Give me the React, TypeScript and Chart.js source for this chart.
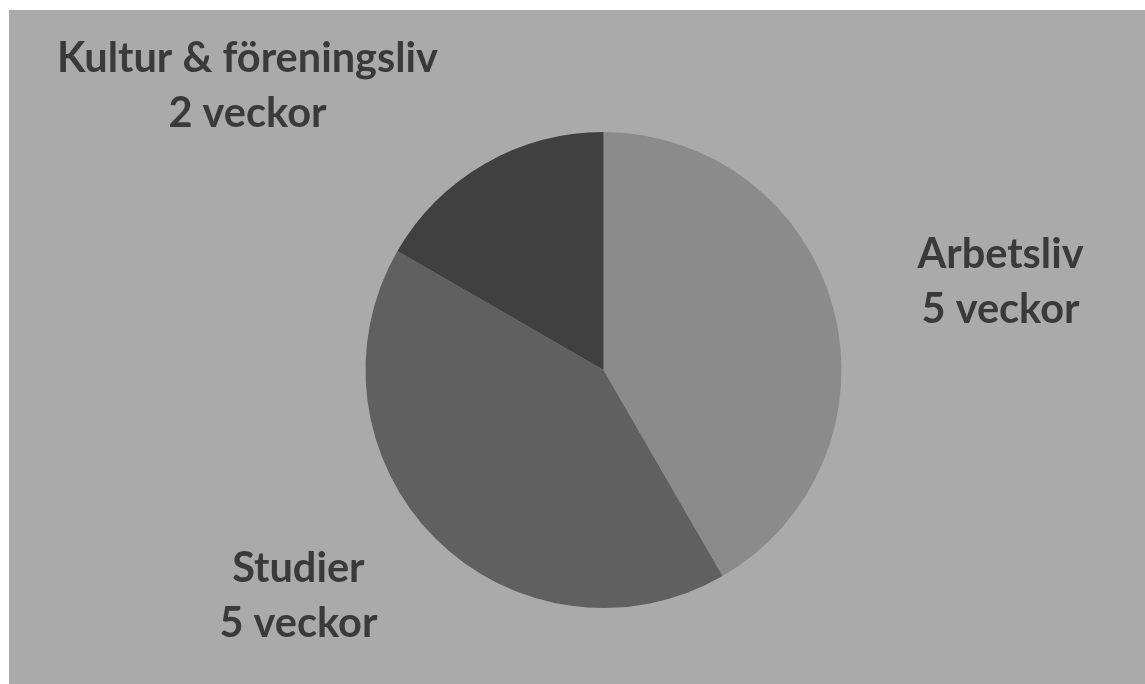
import React, { useEffect, useRef } from "react";
import { Chart, registerables } from "chart.js";

Chart.register(...registerables);

const categories = ["Arbetsliv", "Studier", "Kultur & föreningsliv"];
const weeks = [5, 5, 2];
const valueLabels = ["5 veckor", "5 veckor", "2 veckor"];
const sliceColors = ["#8b8b8b", "#606060", "#404040"];

// label anchor offsets from pie centre, in units of radius (first-line baseline)
const labelOffsets = [
  [1.668, -0.429],
  [-1.282, 0.891],
  [-1.496, -1.252],
];

const labelPlugin = {
  id: "sliceLabels",
  afterDraw(chart: any) {
    const meta = chart.getDatasetMeta(0);
    const arc = meta.data[0];
    if (!arc) return;
    const { x, y, outerRadius } = arc.getProps(["x", "y", "outerRadius"], true);
    const ctx = chart.ctx;
    ctx.save();
    ctx.fillStyle = "#3a3a3a";
    ctx.textAlign = "center";
    ctx.textBaseline = "alphabetic";
    ctx.font = "bold 41.5px Lato";
    const lineGap = 0.231 * outerRadius;
    categories.forEach((c, i) => {
      const lx = x + labelOffsets[i][0] * outerRadius;
      const ly = y + labelOffsets[i][1] * outerRadius;
      ctx.fillText(c, lx, ly);
      ctx.fillText(valueLabels[i], lx, ly + lineGap);
    });
    ctx.restore();
  },
};

const bgPlugin = {
  id: "bg",
  beforeDraw(chart: any) {
    const ctx = chart.ctx;
    ctx.save();
    ctx.fillStyle = "#aaaaaa";
    ctx.fillRect(0, 0, chart.width, chart.height);
    ctx.restore();
  },
};

export default function App() {
  const ref = useRef<HTMLCanvasElement>(null);
  useEffect(() => {
    if (!ref.current) return;
    const chart = new Chart(ref.current, {
      type: "pie",
      data: {
        labels: categories,
        datasets: [
          {
            data: weeks,
            backgroundColor: sliceColors,
            borderWidth: 0,
          },
        ],
      },
      options: {
        animation: false,
        responsive: false,
        layout: { padding: { left: 356.5, right: 303.5, top: 122, bottom: 76 } },
        plugins: {
          legend: { display: false },
          tooltip: { enabled: false },
        },
      },
      plugins: [bgPlugin, labelPlugin],
    });
    return () => chart.destroy();
  }, []);
  return (
    <div style={{ position: "absolute", left: 9, top: 10, width: 1136, height: 674 }}>
      <canvas ref={ref} width={1136} height={674} style={{ display: "block" }} />
    </div>
  );
}
